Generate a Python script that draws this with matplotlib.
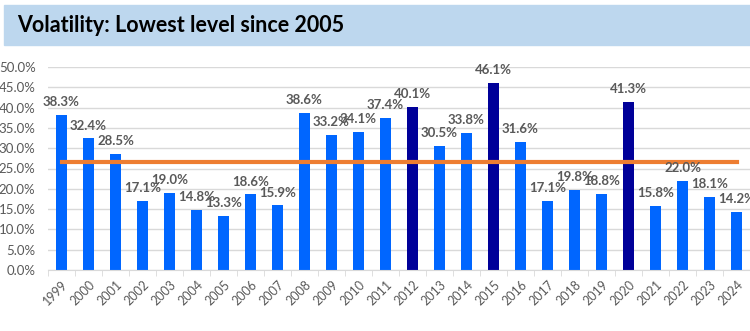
import matplotlib
matplotlib.use("Agg")
import matplotlib.pyplot as plt
import numpy as np
from matplotlib.patches import Rectangle

years = ['1999', '2000', '2001', '2002', '2003', '2004', '2005', '2006', '2007',
         '2008', '2009', '2010', '2011', '2012', '2013', '2014', '2015', '2016',
         '2017', '2018', '2019', '2020', '2021', '2022', '2023', '2024']
volatility = [38.3, 32.4, 28.5, 17.1, 19.0, 14.8, 13.3, 18.6, 15.9,
              38.6, 33.2, 34.1, 37.4, 40.1, 30.5, 33.8, 46.1, 31.6,
              17.1, 19.8, 18.8, 41.3, 15.8, 22.0, 18.1, 14.2]
highlight_years = ['2012', '2015', '2020']
avg_level = 26.6
yticks = [0, 5, 10, 15, 20, 25, 30, 35, 40, 45, 50]

bright_blue = '#0066FF'
navy = '#000099'
orange = '#ED7D31'
grey_txt = '#595959'

plt.rcParams['font.family'] = ['Lato', 'DejaVu Sans']

fig = plt.figure(figsize=(7.5, 3.31), dpi=100)

# title band
fig.patches.append(Rectangle((0.005, 1 - 45 / 331), 0.995, 40 / 331,
                             transform=fig.transFigure, color='#BDD7EE', zorder=0))
fig.text(17 / 750, 1 - 25 / 331, 'Volatility: Lowest level since 2005',
         fontsize=15.5, fontweight='bold', color='black', va='center', ha='left')

ax = fig.add_axes([48 / 750, 1 - 270 / 331, 1 - 48 / 750, 203 / 331])
x = np.arange(len(years))
colors = [navy if y in highlight_years else bright_blue for y in years]
ax.bar(x, volatility, width=0.38, color=colors, zorder=2)
ax.plot([x[0], x[-1]], [avg_level, avg_level], color=orange, linewidth=3, zorder=3)

for xi, v in zip(x, volatility):
    ax.text(xi, v + 1.7, f'{v:.1f}%', ha='center', va='bottom', fontsize=9.5,
            fontweight='bold', color=grey_txt, zorder=4)

ax.set_xlim(-0.5, len(years) - 0.5)
ax.set_ylim(0, 50)
ax.set_yticks(yticks)
ax.set_yticklabels([f'{t:.1f}%' for t in yticks])
ax.yaxis.grid(True, color='#D9D9D9', linewidth=1, zorder=0)
ax.set_axisbelow(True)

ax.set_xticks(x)
ax.set_xticklabels(years, rotation=45, ha='right', rotation_mode='anchor')
ax.set_xticks(np.arange(-0.5, len(years), 1), minor=True)
ax.tick_params(axis='x', which='major', length=0, labelsize=9, colors=grey_txt, pad=6)
ax.tick_params(axis='x', which='minor', length=4, color='#D9D9D9')
ax.tick_params(axis='y', length=0, labelsize=9.5, colors=grey_txt, pad=9)

for side in ['top', 'right', 'left']:
    ax.spines[side].set_visible(False)
ax.spines['bottom'].set_color('#D9D9D9')

fig.savefig('out.png', dpi=100)
